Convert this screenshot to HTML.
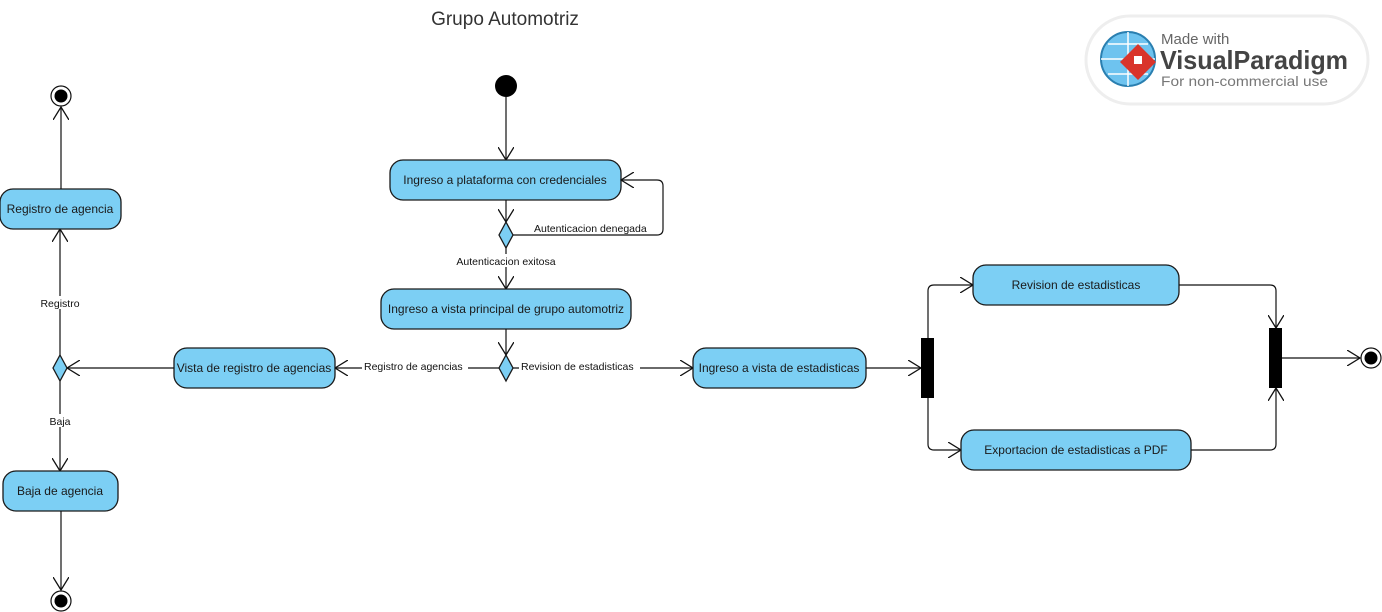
<!DOCTYPE html>
<html><head><meta charset="utf-8"><style>
html,body{margin:0;padding:0;background:#fff;}
svg{display:block;font-family:"Liberation Sans",Arial,sans-serif;}
.n{fill:#7ccff4;stroke:#1a1a1a;stroke-width:1.3;}
.l{fill:none;stroke:#111;stroke-width:1.2;}
.t{font-size:12px;fill:#1a1a1a;text-anchor:middle;}
.s{font-size:10.5px;fill:#111;}
</style></head><body>
<svg width="1382" height="612" viewBox="0 0 1382 612" xmlns="http://www.w3.org/2000/svg">
<defs>
<marker id="a" viewBox="0 0 14 16" refX="13" refY="8" markerWidth="14" markerHeight="16" markerUnits="userSpaceOnUse" orient="auto">
<path d="M0,0 L13,8 L0,16" fill="none" stroke="#111" stroke-width="1.3"/>
</marker>
</defs>
<text x="505" y="25" font-size="19" fill="#333" text-anchor="middle">Grupo Automotriz</text>

<!-- logo -->
<rect x="1086" y="16" width="282" height="88" rx="44" fill="#fff" stroke="#eee" stroke-width="3"/>
<circle cx="1128" cy="59" r="27" fill="#6ec3ef" stroke="#2a7fb0" stroke-width="2"/>
<path d="M1101,59 H1155 M1128,32 V86 M1108,44 H1148 M1108,74 H1148" stroke="#fff" stroke-width="1.5"/>
<path d="M1120,62 L1138,44 L1156,62 L1138,80 Z" fill="#d9342b"/>
<rect x="1134" y="56" width="8" height="8" fill="#fff"/>
<text x="1161" y="44" font-size="15" fill="#666">Made with</text>
<text x="1160" y="69" font-size="26" font-weight="bold" fill="#444" textLength="188" lengthAdjust="spacingAndGlyphs">VisualParadigm</text>
<text x="1161" y="86" font-size="14" fill="#777" textLength="167" lengthAdjust="spacingAndGlyphs">For non-commercial use</text>

<!-- initial -->
<circle cx="506" cy="86" r="11" fill="#000"/>
<path class="l" d="M506,97 V160" marker-end="url(#a)"/>
<rect class="n" x="390" y="160" width="231" height="40" rx="13"/>
<text class="t" x="505" y="184">Ingreso a plataforma con credenciales</text>
<path class="l" d="M506,200 V222" marker-end="url(#a)"/>
<path class="n" d="M506,222 L513,235 L506,248 L499,235 Z"/>
<path class="l" d="M513,235 H657 Q663,235 663,229 V186 Q663,180 657,180 H621" marker-end="url(#a)"/>
<rect x="532" y="221" width="121" height="13" fill="#fff"/>
<text class="s" x="534" y="232">Autenticacion denegada</text>
<path class="l" d="M506,248 V289" marker-end="url(#a)"/>
<rect x="452" y="254" width="108" height="13" fill="#fff"/>
<text class="s" x="506" y="265" text-anchor="middle">Autenticacion exitosa</text>
<rect class="n" x="381" y="289" width="250" height="40" rx="13"/>
<text class="t" x="506" y="313">Ingreso a vista principal de grupo automotriz</text>
<path class="l" d="M506,329 V355" marker-end="url(#a)"/>
<path class="n" d="M506,355 L513,368 L506,381 L499,368 Z"/>
<path class="l" d="M499,368 H335" marker-end="url(#a)"/>
<rect x="362" y="359" width="106" height="13" fill="#fff"/>
<text class="s" x="364" y="370">Registro de agencias</text>
<path class="l" d="M513,368 H693" marker-end="url(#a)"/>
<rect x="519" y="359" width="121" height="13" fill="#fff"/>
<text class="s" x="521" y="370">Revision de estadisticas</text>

<rect class="n" x="174" y="348" width="161" height="40" rx="13"/>
<text class="t" x="254" y="372">Vista de registro de agencias</text>
<path class="l" d="M174,368 H67" marker-end="url(#a)"/>
<path class="n" d="M60,355 L67,368 L60,381 L53,368 Z"/>
<path class="l" d="M60,355 V229" marker-end="url(#a)"/>
<rect x="38" y="296" width="46" height="13" fill="#fff"/>
<text class="s" x="60" y="307" text-anchor="middle">Registro</text>
<rect class="n" x="0" y="189" width="121" height="40" rx="13"/>
<text class="t" x="60" y="213">Registro de agencia</text>
<path class="l" d="M61,189 V107" marker-end="url(#a)"/>
<circle cx="61" cy="96" r="10" fill="#fff" stroke="#111" stroke-width="1.2"/>
<circle cx="61" cy="96" r="6.5" fill="#000"/>
<path class="l" d="M60,381 V471" marker-end="url(#a)"/>
<rect x="46" y="414" width="28" height="13" fill="#fff"/>
<text class="s" x="60" y="425" text-anchor="middle">Baja</text>
<rect class="n" x="3" y="471" width="115" height="40" rx="13"/>
<text class="t" x="60" y="495">Baja de agencia</text>
<path class="l" d="M61,511 V590" marker-end="url(#a)"/>
<circle cx="61" cy="601" r="10" fill="#fff" stroke="#111" stroke-width="1.2"/>
<circle cx="61" cy="601" r="6.5" fill="#000"/>

<rect class="n" x="693" y="348" width="173" height="40" rx="13"/>
<text class="t" x="779" y="372">Ingreso a vista de estadisticas</text>
<path class="l" d="M866,368 H921" marker-end="url(#a)"/>
<rect x="921" y="338" width="13" height="60" fill="#000"/>
<path class="l" d="M928,338 V291 Q928,285 934,285 H973" marker-end="url(#a)"/>
<path class="l" d="M928,398 V444 Q928,450 934,450 H961" marker-end="url(#a)"/>
<rect class="n" x="973" y="265" width="206" height="40" rx="13"/>
<text class="t" x="1076" y="289">Revision de estadisticas</text>
<rect class="n" x="961" y="430" width="230" height="40" rx="13"/>
<text class="t" x="1076" y="454">Exportacion de estadisticas a PDF</text>
<path class="l" d="M1179,285 H1270 Q1276,285 1276,291 V328" marker-end="url(#a)"/>
<path class="l" d="M1191,450 H1270 Q1276,450 1276,444 V388" marker-end="url(#a)"/>
<rect x="1269" y="328" width="13" height="60" fill="#000"/>
<path class="l" d="M1282,358 H1360" marker-end="url(#a)"/>
<circle cx="1371" cy="358" r="10" fill="#fff" stroke="#111" stroke-width="1.2"/>
<circle cx="1371" cy="358" r="6.5" fill="#000"/>
</svg>
</body></html>
